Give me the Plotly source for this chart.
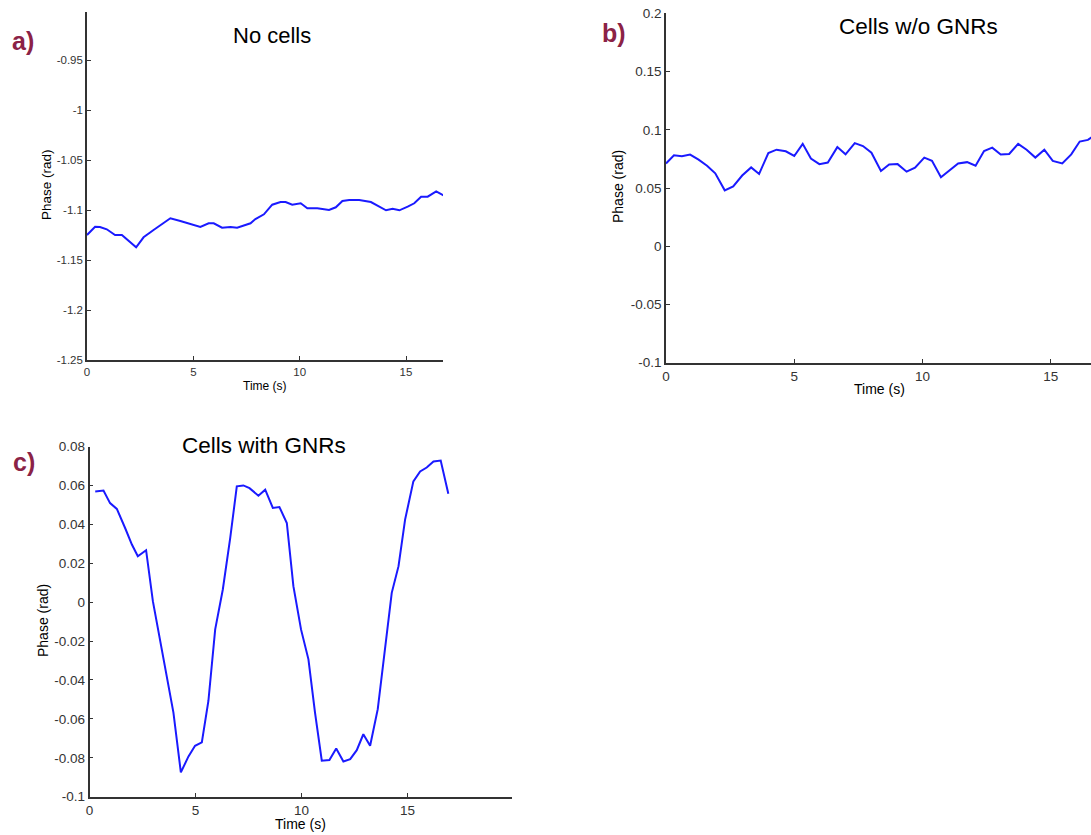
import plotly.graph_objects as go

W, H = 1091, 835

# ---- Panel a: No cells ----
t_a = [0.0, 0.38, 0.61, 0.93, 1.32, 1.64, 2.31, 2.66, 3.13, 3.92, 4.39, 5.33, 5.72, 5.96,
       6.35, 6.75, 7.06, 7.69, 7.92, 8.32, 8.71, 9.10, 9.34, 9.65, 10.05, 10.36, 10.83,
       11.38, 11.70, 12.01, 12.33, 12.80, 13.35, 13.74, 14.06, 14.37, 14.69, 15.08, 15.39,
       15.71, 16.02, 16.42, 16.78]
v_a = [-1.125, -1.1167, -1.117, -1.1193, -1.125, -1.125, -1.1373, -1.1273, -1.12, -1.1083,
       -1.111, -1.117, -1.1133, -1.1133, -1.1177, -1.117, -1.1177, -1.1133, -1.109, -1.1043,
       -1.0947, -1.092, -1.092, -1.0947, -1.0933, -1.0983, -1.0983, -1.1, -1.0973, -1.091,
       -1.09, -1.09, -1.092, -1.0967, -1.1003, -1.0987, -1.1003, -1.0967, -1.0933, -1.0867,
       -1.0867, -1.0813, -1.0857]

# ---- Panel b: Cells w/o GNRs ----
t_b = [0.0, 0.31, 0.62, 0.94, 1.27, 1.60, 1.92, 2.29, 2.62, 2.97, 3.32, 3.63, 3.99, 4.31,
       4.67, 5.00, 5.33, 5.65, 5.98, 6.31, 6.68, 7.00, 7.36, 7.68, 8.01, 8.38, 8.70, 9.03,
       9.38, 9.71, 10.07, 10.37, 10.72, 11.05, 11.39, 11.74, 12.07, 12.40, 12.72, 13.05,
       13.38, 13.73, 14.06, 14.40, 14.75, 15.08, 15.45, 15.80, 16.13, 16.45, 16.69, 17.0]
v_b = [0.0711, 0.0781, 0.0772, 0.0787, 0.0744, 0.0691, 0.0626, 0.048, 0.0514, 0.0607,
       0.0677, 0.0621, 0.080, 0.0829, 0.0815, 0.0775, 0.0879, 0.0753, 0.0705, 0.0719,
       0.0851, 0.0789, 0.0885, 0.086, 0.0803, 0.0646, 0.0702, 0.0705, 0.064, 0.0674,
       0.0761, 0.0733, 0.0593, 0.0649, 0.0711, 0.0722, 0.0691, 0.0817, 0.0846, 0.0787,
       0.0792, 0.0879, 0.0829, 0.0761, 0.0829, 0.0733, 0.0711, 0.0789, 0.0899, 0.0913,
       0.0949, 0.098]

# ---- Panel c: Cells with GNRs ----
t_c = [0.27, 0.66, 0.97, 1.29, 1.68, 2.00, 2.28, 2.67, 2.99, 3.33, 3.69, 3.96, 4.31, 4.67,
       4.98, 5.30, 5.61, 5.93, 6.29, 6.64, 6.95, 7.26, 7.55, 7.97, 8.29, 8.65, 8.96, 9.31,
       9.62, 9.98, 10.33, 10.64, 10.96, 11.32, 11.64, 11.98, 12.30, 12.61, 12.92, 13.24,
       13.60, 13.95, 14.26, 14.58, 14.89, 15.28, 15.60, 15.91, 16.23, 16.57, 16.93]
v_c = [0.0569, 0.0574, 0.0509, 0.0479, 0.0381, 0.0296, 0.0236, 0.0267, 0.0005, -0.020,
       -0.0397, -0.0568, -0.0875, -0.0793, -0.0738, -0.0721, -0.0508, -0.014, 0.0065,
       0.033, 0.0595, 0.060, 0.0586, 0.0547, 0.0578, 0.0484, 0.0489, 0.0407, 0.0082,
       -0.014, -0.0294, -0.0568, -0.0815, -0.0812, -0.0752, -0.0819, -0.0807, -0.0761,
       -0.0679, -0.0738, -0.055, -0.0243, 0.0048, 0.0185, 0.0424, 0.0621, 0.0672, 0.0692,
       0.0723, 0.0728, 0.0557]

x_ticks_ab = [0, 5, 10, 15]
y_ticks_a = [-1.25, -1.2, -1.15, -1.1, -1.05, -1, -0.95]
y_ticklabels_a = ["-1.25", "-1.2", "-1.15", "-1.1", "-1.05", "-1", "-0.95"]
y_ticks_b = [-0.1, -0.05, 0, 0.05, 0.1, 0.15, 0.2]
y_ticklabels_b = ["-0.1", "-0.05", "0", "0.05", "0.1", "0.15", "0.2"]
y_ticks_c = [-0.1, -0.08, -0.06, -0.04, -0.02, 0, 0.02, 0.04, 0.06, 0.08]
y_ticklabels_c = ["-0.1", "-0.08", "-0.06", "-0.04", "-0.02", "0", "0.02", "0.04", "0.06", "0.08"]

LINE = "#1a1aff"
FONT = "Liberation Sans, Arial, sans-serif"
LABEL_COL = "#8b2246"

def px(x):
    return x / W

def py(y):
    return 1 - y / H

fig = go.Figure()
fig.add_trace(go.Scatter(x=t_a, y=v_a, mode="lines", line=dict(color=LINE, width=2),
                         xaxis="x", yaxis="y", showlegend=False))
fig.add_trace(go.Scatter(x=t_b, y=v_b, mode="lines", line=dict(color=LINE, width=2),
                         xaxis="x2", yaxis="y2", showlegend=False))
fig.add_trace(go.Scatter(x=t_c, y=v_c, mode="lines", line=dict(color=LINE, width=2),
                         xaxis="x3", yaxis="y3", showlegend=False))

def ax(domain, rng, tickvals, ticktext=None, anchor=None, size=11):
    d = dict(domain=domain, range=rng, tickvals=tickvals, showline=True,
             linecolor="#333333", linewidth=1.6, ticks="inside", ticklen=4,
             tickwidth=1, tickcolor="#333333", showgrid=False, zeroline=False,
             tickfont=dict(family=FONT, size=size, color="#333333"),
             anchor=anchor, fixedrange=True, automargin=False)
    if ticktext is not None:
        d["ticktext"] = ticktext
    return d

layout = dict(
    width=W, height=H, margin=dict(l=0, r=0, t=0, b=0, autoexpand=False),
    paper_bgcolor="white", plot_bgcolor="white", showlegend=False,
    xaxis=ax([px(87), px(443)], [0, 16.74], x_ticks_ab, None, "y", 11.5),
    yaxis=ax([py(360), py(12)], [-1.25, -0.902], y_ticks_a, y_ticklabels_a, "x", 11.5),
    xaxis2=ax([px(666), 1.0], [0, 16.57], x_ticks_ab, None, "y2", 13.5),
    yaxis2=ax([py(362.7), py(13.3)], [-0.1, 0.2], y_ticks_b, y_ticklabels_b, "x2", 13.5),
    xaxis3=ax([px(89.5), px(511.7)], [0, 19.92], x_ticks_ab, None, "y3", 13.5),
    yaxis3=ax([py(796.7), py(446.5)], [-0.1, 0.08], y_ticks_c, y_ticklabels_c, "x3", 13.5),
)
fig.update_layout(**layout)

def ann(text, x, y, size, color="black", bold=False, angle=0):
    fig.add_annotation(text=("<b>%s</b>" % text) if bold else text,
                       x=px(x), y=py(y), xref="paper", yref="paper",
                       xanchor="center", yanchor="middle", showarrow=False,
                       textangle=angle, font=dict(family=FONT, size=size, color=color))

# titles
ann("No cells", 272, 35, 22)
ann("Cells w/o GNRs", 918, 26, 22.5)
ann("Cells with GNRs", 264, 445, 22.5)
# panel labels
ann("a)", 23, 41, 25, LABEL_COL, True)
ann("b)", 614, 33, 25, LABEL_COL, True)
ann("c)", 24, 462, 25, LABEL_COL, True)
# axis titles
ann("Time (s)", 265, 386, 12)
ann("Phase (rad)", 47, 185, 13.5, angle=-90)
ann("Time (s)", 879, 389, 14)
ann("Phase (rad)", 618, 187, 14, angle=-90)
ann("Time (s)", 300, 824, 14)
ann("Phase (rad)", 43, 621, 14, angle=-90)

fig.write_html("out.html")
